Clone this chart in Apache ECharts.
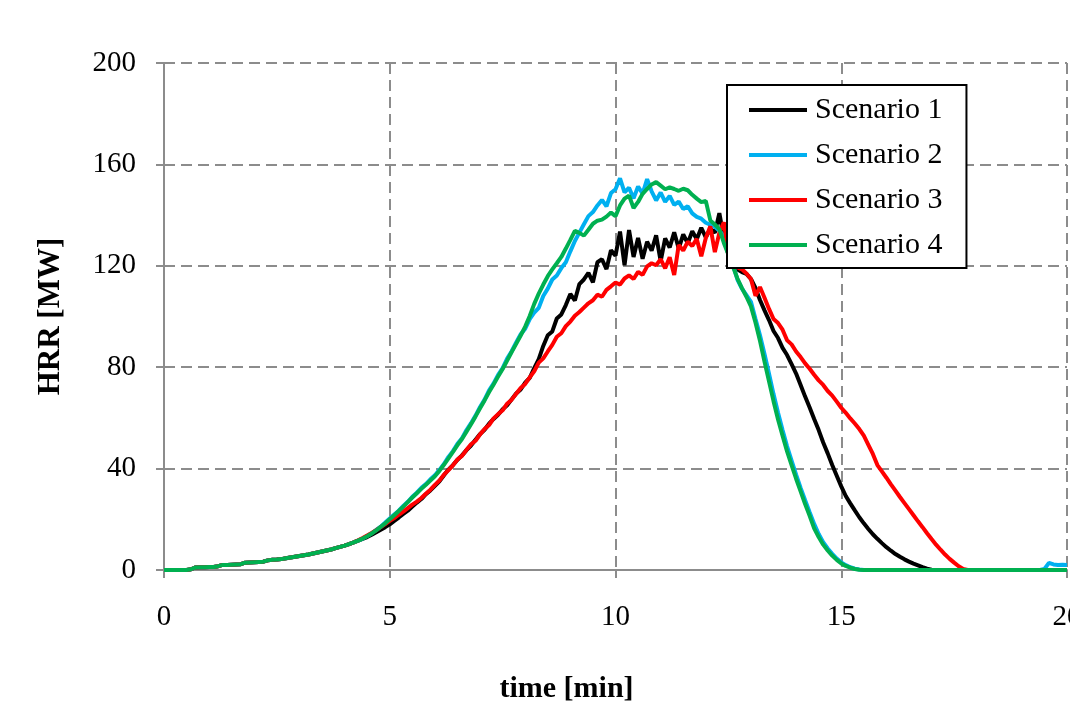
<!DOCTYPE html>
<html>
<head>
<meta charset="utf-8">
<title>HRR scenarios</title>
<script src="https://cdn.jsdelivr.net/npm/echarts@6/dist/echarts.min.js"></script>
<style>
  html, body { margin: 0; padding: 0; background: #fff; }
  #chart { width: 1070px; height: 703px; }
</style>
</head>
<body>
<div id="chart"></div>
<script>
// time axis [min], sampled every 0.1 min
const time = [
  0.0, 0.1, 0.2, 0.3, 0.4, 0.5, 0.6, 0.7, 0.8, 0.9,
  1.0, 1.1, 1.2, 1.3, 1.4, 1.5, 1.6, 1.7, 1.8, 1.9,
  2.0, 2.1, 2.2, 2.3, 2.4, 2.5, 2.6, 2.7, 2.8, 2.9,
  3.0, 3.1, 3.2, 3.3, 3.4, 3.5, 3.6, 3.7, 3.8, 3.9,
  4.0, 4.1, 4.2, 4.3, 4.4, 4.5, 4.6, 4.7, 4.8, 4.9,
  5.0, 5.1, 5.2, 5.3, 5.4, 5.5, 5.6, 5.7, 5.8, 5.9,
  6.0, 6.1, 6.2, 6.3, 6.4, 6.5, 6.6, 6.7, 6.8, 6.9,
  7.0, 7.1, 7.2, 7.3, 7.4, 7.5, 7.6, 7.7, 7.8, 7.9,
  8.0, 8.1, 8.2, 8.3, 8.4, 8.5, 8.6, 8.7, 8.8, 8.9,
  9.0, 9.1, 9.2, 9.3, 9.4, 9.5, 9.6, 9.7, 9.8, 9.9,
  10.0, 10.1, 10.2, 10.3, 10.4, 10.5, 10.6, 10.7, 10.8, 10.9,
  11.0, 11.1, 11.2, 11.3, 11.4, 11.5, 11.6, 11.7, 11.8, 11.9,
  12.0, 12.1, 12.2, 12.3, 12.4, 12.5, 12.6, 12.7, 12.8, 12.9,
  13.0, 13.1, 13.2, 13.3, 13.4, 13.5, 13.6, 13.7, 13.8, 13.9,
  14.0, 14.1, 14.2, 14.3, 14.4, 14.5, 14.6, 14.7, 14.8, 14.9,
  15.0, 15.1, 15.2, 15.3, 15.4, 15.5, 15.6, 15.7, 15.8, 15.9,
  16.0, 16.1, 16.2, 16.3, 16.4, 16.5, 16.6, 16.7, 16.8, 16.9,
  17.0, 17.1, 17.2, 17.3, 17.4, 17.5, 17.6, 17.7, 17.8, 17.9,
  18.0, 18.1, 18.2, 18.3, 18.4, 18.5, 18.6, 18.7, 18.8, 18.9,
  19.0, 19.1, 19.2, 19.3, 19.4, 19.5, 19.6, 19.7, 19.8, 19.9,
  20.0
];

// HRR [MW] per scenario, one value per time step
const scenario1 = [
  0, 0, 0, 0, 0, 0, 0.3, 1.0, 1.1, 1.1,
  1.2, 1.2, 1.5, 2.0, 2.0, 2.1, 2.2, 2.3, 2.9, 3.0,
  3.1, 3.2, 3.3, 3.8, 4.0, 4.1, 4.3, 4.6, 4.9, 5.2,
  5.5, 5.8, 6.1, 6.5, 6.9, 7.3, 7.7, 8.1, 8.6, 9.1,
  9.6, 10.2, 10.9, 11.6, 12.3, 13.0, 13.9, 14.9, 15.9, 16.9,
  18.0, 19.4, 20.7, 22.1, 23.4, 25.0, 26.6, 28.0, 29.9, 31.4,
  33.2, 35.0, 37.4, 39.6, 41.4, 43.5, 45.2, 47.3, 49.1, 51.4,
  53.6, 55.3, 57.7, 59.6, 61.2, 63.4, 65.0, 67.3, 69.6, 71.2,
  73.9, 75.8, 79.6, 83.2, 88.4, 92.6, 94.1, 99.2, 100.8, 104.5,
  108.9, 106.3, 112.8, 114.6, 117.2, 113.5, 121.4, 122.6, 118.7, 126.1,
  124.0, 133.5, 120.2, 134.1, 123.5, 131.0, 122.8, 129.5, 126.0, 132.0,
  121.8, 130.8, 127.2, 133.2, 126.8, 132.4, 128.9, 133.6, 130.5, 135.0,
  131.2, 134.6, 133.0, 140.8, 131.0, 124.5, 120.4, 118.6, 117.5, 116.8,
  114.8, 111.3, 106.5, 102.4, 98.6, 94.3, 91.5, 87.6, 84.8, 81.2,
  77.5, 73.0, 68.4, 64.1, 59.6, 55.2, 50.3, 46.0, 41.4, 37.2,
  33.0, 29.2, 26.3, 23.5, 20.8, 18.4, 16.2, 14.1, 12.3, 10.6,
  9.0, 7.6, 6.3, 5.2, 4.2, 3.3, 2.5, 1.8, 1.1, 0.5,
  0.1, 0, 0, 0, 0, 0, 0, 0, 0, 0,
  0, 0, 0, 0, 0, 0, 0, 0, 0, 0,
  0, 0, 0, 0, 0, 0, 0, 0, 0, 0,
  0
];

const scenario2 = [
  0, 0, 0, 0, 0, 0, 0.3, 1.0, 1.1, 1.1,
  1.2, 1.2, 1.5, 2.0, 2.0, 2.1, 2.2, 2.3, 2.9, 3.0,
  3.1, 3.2, 3.3, 3.8, 4.0, 4.1, 4.3, 4.6, 4.9, 5.2,
  5.5, 5.8, 6.1, 6.5, 6.9, 7.3, 7.7, 8.1, 8.6, 9.1,
  9.6, 10.2, 10.9, 11.6, 12.4, 13.4, 14.5, 15.8, 17.1, 18.7,
  20.3, 21.9, 23.4, 25.3, 26.9, 28.9, 30.5, 32.4, 33.9, 35.8,
  37.4, 39.5, 41.8, 44.6, 46.9, 49.8, 52.0, 55.2, 57.9, 60.9,
  64.3, 67.2, 70.9, 73.6, 77.0, 79.6, 83.4, 86.3, 89.8, 93.0,
  95.2, 99.0, 101.5, 103.4, 108.1, 111.0, 114.6, 116.2, 119.1, 121.4,
  125.7, 129.8, 133.1, 136.4, 139.6, 141.2, 143.8, 146.0, 143.5, 148.7,
  150.2, 154.5, 149.0, 150.8, 146.6, 151.3, 148.5, 154.2, 149.4, 145.8,
  148.9, 145.2, 147.6, 144.0, 145.3, 142.4, 143.5, 140.7, 139.3, 138.6,
  137.0, 136.2, 135.4, 133.8, 131.9, 126.0, 120.5, 114.6, 111.0, 108.4,
  105.8, 99.1, 92.6, 85.2, 77.4, 69.4, 62.0, 55.2, 48.8, 43.2,
  37.6, 32.4, 27.5, 22.8, 18.2, 14.2, 11.0, 8.5, 6.4, 4.5,
  3.0, 1.9, 1.1, 0.5, 0.2, 0, 0, 0, 0, 0,
  0, 0, 0, 0, 0, 0, 0, 0, 0, 0,
  0, 0, 0, 0, 0, 0, 0, 0, 0, 0,
  0, 0, 0, 0, 0, 0, 0, 0, 0, 0,
  0, 0, 0, 0, 0, 0.4, 2.8, 2.2, 2.0, 2.1,
  2.0
];

const scenario3 = [
  0, 0, 0, 0, 0, 0, 0.3, 1.0, 1.1, 1.1,
  1.2, 1.2, 1.5, 2.0, 2.0, 2.1, 2.2, 2.3, 2.9, 3.0,
  3.1, 3.2, 3.3, 3.8, 4.0, 4.1, 4.3, 4.6, 4.9, 5.2,
  5.5, 5.8, 6.1, 6.5, 6.9, 7.3, 7.7, 8.1, 8.6, 9.1,
  9.6, 10.2, 10.9, 11.7, 12.6, 13.6, 14.6, 15.7, 16.9, 18.1,
  19.4, 20.5, 21.8, 23.0, 24.4, 25.8, 27.0, 28.4, 30.1, 31.7,
  33.6, 35.3, 37.6, 39.4, 41.3, 43.6, 45.0, 47.4, 49.6, 51.0,
  53.5, 55.6, 57.2, 59.8, 61.5, 63.0, 65.6, 67.2, 69.5, 71.8,
  73.4, 76.0, 78.4, 81.8, 83.5, 86.2, 88.8, 92.0, 93.4, 96.2,
  98.0, 100.3, 101.8, 103.5, 105.2, 106.4, 108.6, 107.8, 110.5, 111.9,
  113.4, 112.6, 115.0, 116.2, 114.8, 117.6, 116.4, 119.8, 121.0, 120.2,
  122.6, 119.0, 123.4, 116.4, 128.2, 126.0, 129.5, 127.8, 130.6, 123.8,
  131.0, 135.6, 125.4, 133.0, 137.2, 125.0, 122.6, 119.4, 118.6, 117.0,
  114.8, 108.2, 111.6, 107.4, 103.0, 99.0, 97.4, 94.8, 90.6, 89.0,
  86.2, 84.0, 81.5, 79.4, 77.0, 74.8, 73.0, 70.6, 68.8, 66.4,
  64.0, 62.0, 59.8, 57.8, 55.6, 53.0, 49.4, 45.8, 41.4, 38.9,
  36.4, 33.8, 31.3, 28.8, 26.4, 24.0, 21.6, 19.2, 16.9, 14.5,
  12.2, 10.0, 8.0, 6.1, 4.4, 2.9, 1.5, 0.4, 0, 0,
  0, 0, 0, 0, 0, 0, 0, 0, 0, 0,
  0, 0, 0, 0, 0, 0, 0, 0, 0, 0,
  0
];

const scenario4 = [
  0, 0, 0, 0, 0, 0, 0.3, 1.0, 1.1, 1.1,
  1.2, 1.2, 1.5, 2.0, 2.0, 2.1, 2.2, 2.3, 2.9, 3.0,
  3.1, 3.2, 3.3, 3.8, 4.0, 4.1, 4.3, 4.6, 4.9, 5.2,
  5.5, 5.8, 6.1, 6.5, 6.9, 7.3, 7.7, 8.1, 8.6, 9.1,
  9.6, 10.2, 10.9, 11.6, 12.4, 13.3, 14.4, 15.6, 17.0, 18.4,
  20.0, 21.6, 23.3, 25.0, 26.8, 28.6, 30.3, 32.0, 33.6, 35.3,
  37.0, 39.1, 41.5, 44.0, 46.6, 49.3, 51.7, 54.6, 57.5, 60.6,
  63.8, 66.9, 70.2, 73.2, 76.3, 79.3, 82.6, 86.0, 89.2, 92.5,
  96.0, 100.2, 105.0, 109.0, 112.6, 115.9, 118.6, 121.0, 123.5, 126.8,
  130.2, 133.8, 133.0, 131.9, 134.2, 136.6, 137.8, 138.2, 139.4, 141.0,
  139.6, 143.8, 146.5, 147.7, 142.8, 145.2, 148.4, 150.3, 152.1, 153.0,
  151.6, 150.2, 150.9, 150.3, 149.6, 150.4, 149.8, 148.0, 146.5, 145.1,
  145.6, 137.9, 136.3, 134.5, 129.0, 124.5, 119.8, 115.0, 111.2, 107.8,
  104.0, 97.6, 90.4, 82.2, 74.4, 66.6, 59.4, 53.0, 46.8, 41.4,
  36.0, 31.0, 26.0, 21.4, 16.4, 13.0, 10.0, 7.7, 5.7, 4.0,
  2.6, 1.6, 0.9, 0.4, 0.1, 0, 0, 0, 0, 0,
  0, 0, 0, 0, 0, 0, 0, 0, 0, 0,
  0, 0, 0, 0, 0, 0, 0, 0, 0, 0,
  0, 0, 0, 0, 0, 0, 0, 0, 0, 0,
  0, 0, 0, 0, 0, 0, 0, 0, 0, 0,
  0
];

const names = ['Scenario 1', 'Scenario 2', 'Scenario 3', 'Scenario 4'];
const colors = ['#000000', '#00b0f0', '#ff0000', '#00b050'];
const values = [scenario1, scenario2, scenario3, scenario4];

const font = 'Liberation Serif';
const gray = '#8c8c8c';

const chart = echarts.init(document.getElementById('chart'));

chart.setOption({
  animation: false,
  backgroundColor: '#ffffff',
  grid: { left: 164, right: 3, top: 63, bottom: 133, containLabel: false, outerBoundsMode: 'none' },
  legend: {
    orient: 'vertical',
    left: 727,
    top: 85,
    backgroundColor: '#ffffff',
    borderColor: '#000000',
    borderWidth: 2,
    padding: [10, 24, 8, 22],
    icon: 'rect',
    itemWidth: 58,
    itemHeight: 4,
    itemGap: 15,
    textStyle: { fontFamily: font, fontSize: 30, color: '#000', padding: [0, 0, 0, 3] },
    data: names
  },
  xAxis: {
    type: 'value',
    min: 0,
    max: 20,
    interval: 5,
    name: 'time [min]',
    nameLocation: 'middle',
    nameGap: 104,
    // title sits left of the plot centre in the original
    nameTextStyle: { fontFamily: font, fontSize: 30, fontWeight: 'bold', color: '#000', padding: [0, 98, 0, 0] },
    axisLine: { lineStyle: { color: gray, width: 2 } },
    axisTick: { show: true, length: 8, lineStyle: { color: gray, width: 2 } },
    axisLabel: { fontFamily: font, fontSize: 29, color: '#000', margin: 33 },
    splitLine: { show: true, lineStyle: { color: gray, width: 2, type: [11, 6] } }
  },
  yAxis: {
    type: 'value',
    min: 0,
    max: 200,
    interval: 40,
    name: 'HRR [MW]',
    nameLocation: 'middle',
    nameRotate: 90,
    nameGap: 98,
    nameTextStyle: { fontFamily: font, fontSize: 31, fontWeight: 'bold', color: '#000' },
    axisLine: { show: true, lineStyle: { color: gray, width: 2 } },
    axisTick: { show: true, length: 8, lineStyle: { color: gray, width: 2 } },
    axisLabel: { fontFamily: font, fontSize: 29, color: '#000', margin: 28 },
    splitLine: { show: true, lineStyle: { color: gray, width: 2, type: [11, 6] } }
  },
  series: names.map((name, i) => ({
    name,
    type: 'line',
    data: time.map((t, k) => [t, values[i][k]]),
    showSymbol: false,
    symbol: 'none',
    color: colors[i],
    lineStyle: { color: colors[i], width: 4 }
  }))
});
</script>
</body>
</html>
